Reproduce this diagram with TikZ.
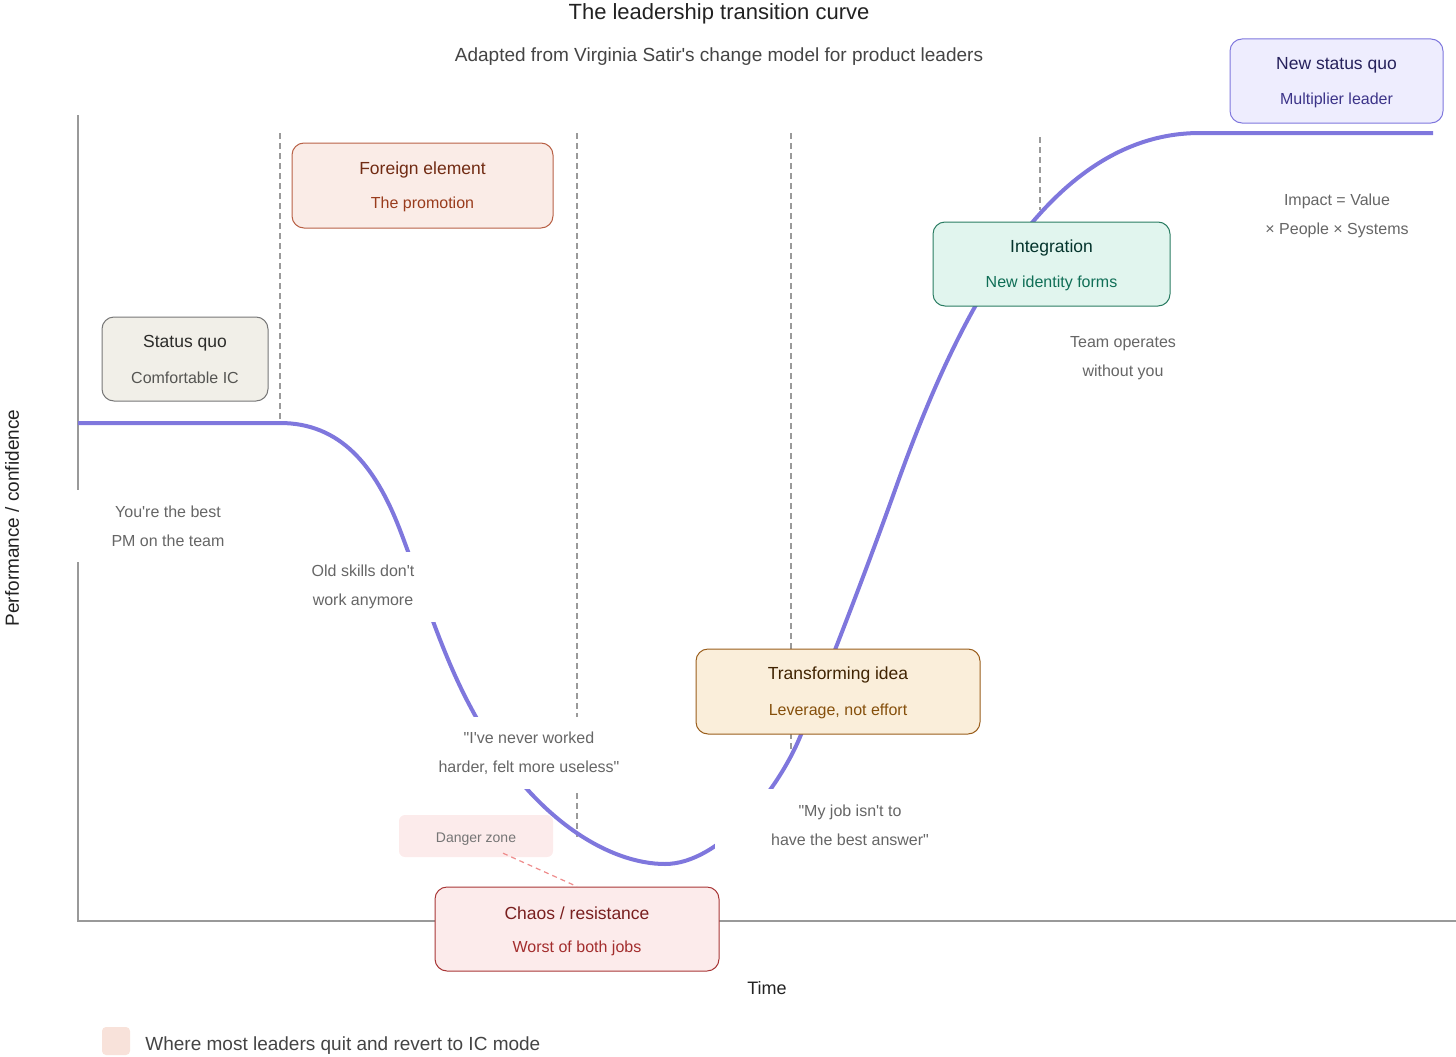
\documentclass[tikz,border=0pt]{standalone}
\usepackage{fontspec}
\setmainfont{Liberation Sans}
\usetikzlibrary{positioning}

\definecolor{curvecol}{HTML}{7F77DD}
\definecolor{axisgray}{HTML}{999999}
\definecolor{guidegray}{HTML}{9A9A9A}
\definecolor{notegray}{HTML}{666666}
\definecolor{titlegray}{HTML}{222222}
\definecolor{subgray}{HTML}{444444}
% stage colours
\definecolor{sqfill}{HTML}{F1EFE8}\definecolor{sqline}{HTML}{777777}
\definecolor{sqtitle}{HTML}{2C2C2A}\definecolor{sqsub}{HTML}{555552}
\definecolor{fefill}{HTML}{FAECE7}\definecolor{feline}{HTML}{B86146}
\definecolor{fetitle}{HTML}{712B13}\definecolor{fesub}{HTML}{993C1D}
\definecolor{chfill}{HTML}{FCEBEB}\definecolor{chline}{HTML}{A83636}
\definecolor{chtitle}{HTML}{791F1F}\definecolor{chsub}{HTML}{A32D2D}
\definecolor{tifill}{HTML}{FAEEDA}\definecolor{tiline}{HTML}{9A5E1C}
\definecolor{tititle}{HTML}{412402}\definecolor{tisub}{HTML}{854F0B}
\definecolor{infill}{HTML}{E1F5EE}\definecolor{inline}{HTML}{2A7C62}
\definecolor{intitle}{HTML}{04342C}\definecolor{insub}{HTML}{0F6E56}
\definecolor{nsfill}{HTML}{EEEDFE}\definecolor{nsline}{HTML}{7F77DD}
\definecolor{nstitle}{HTML}{26215C}\definecolor{nssub}{HTML}{3C3489}
\definecolor{dangerline}{HTML}{EE8C8C}
\definecolor{legendfill}{HTML}{F8E2DA}

\newcommand{\sq}{\textquotesingle}
\newcommand{\dq}{\textquotedbl}

\tikzset{
  stage/.style={draw, line width=1pt, rounded corners=12pt},
  stagetitle/.style={font=\fontsize{17.5}{20}\selectfont},
  stagesub/.style={font=\fontsize{16}{18}\selectfont},
  note/.style={fill=white, align=center, text=notegray, inner sep=0pt,
    font=\fontsize{16}{29}\selectfont},
  guide/.style={draw=guidegray, line width=1.2pt, dash pattern=on 6pt off 4pt},
  axisline/.style={draw=axisgray, line width=1.3pt},
  curveline/.style={draw=curvecol, line width=4pt},
}

\begin{document}
\begin{tikzpicture}[x=1pt,y=-1pt]
\useasboundingbox (0,0) rectangle (1456,1057);

% phase guides
\foreach \gx/\gtop/\gbot in {280/133/423, 577/133/837, 791/133/755, 1040/137/210}
  \draw[guide] (\gx,\gtop) -- (\gx,\gbot);

% axes
\draw[axisline] (78,115) -- (78,921) -- (1456,921);

% the transition curve
\draw[curveline] (78,423) -- (280,423)
  .. controls (340,423) and (375,465) .. (400,530)
  .. controls (420,582) and (440,650) .. (470,706)
  .. controls (530,820) and (610,864) .. (665,864)
  .. controls (720,864) and (778,790) .. (800,737)
  .. controls (830,665) and (870,560) .. (895,490)
  .. controls (950,336) and (1040,133) .. (1200,133)
  -- (1433,133);

% notes along the curve
\node[note, minimum width=182, minimum height=72] (bestpm) at (168,526) {You\sq re the best\\PM on the team};
\node[note, minimum width=150, minimum height=70] (oldskills) at (363,587) {Old skills don\sq t\\work anymore};
\node[note, minimum width=196, minimum height=72] (useless) at (529,753) {\dq I\sq ve never worked\\harder, felt more useless\dq};
\node[note, minimum width=270, minimum height=72] (bestanswer) at (850,825) {\dq My job isn\sq t to\\have the best answer\dq};
\node[note] (withoutyou) at (1123,358.5) {Team operates\\without you};
\node[note] (impact) at (1337,216) {Impact = Value\\× People × Systems};

% danger zone
\node[fill=chfill, rounded corners=6pt, minimum width=154, minimum height=42] (danger) at (476,836) {};
\node[text=notegray!90, font=\fontsize{14}{16}\selectfont] (dangertext) at (476,839) {Danger zone};

% stages
\node[stage, draw=sqline, fill=sqfill, minimum width=166, minimum height=84] (statusquo) at (185,359) {};
\node[stagetitle, text=sqtitle] at (185,343) {Status quo};
\node[stagesub, text=sqsub] at (185,378) {Comfortable IC};

\node[stage, draw=feline, fill=fefill, minimum width=261, minimum height=85] (foreign) at (422.5,185.5) {};
\node[stagetitle, text=fetitle] at (422.5,170) {Foreign element};
\node[stagesub, text=fesub] at (422.5,204) {The promotion};

\node[stage, draw=chline, fill=chfill, minimum width=284, minimum height=84] (chaos) at (577,929) {};
\node[stagetitle, text=chtitle] at (577,913) {Chaos / resistance};
\node[stagesub, text=chsub] at (577,948) {Worst of both jobs};

\node[stage, draw=tiline, fill=tifill, minimum width=284, minimum height=85] (transforming) at (838,691.5) {};
\node[stagetitle, text=tititle] at (838,675) {Transforming idea};
\node[stagesub, text=tisub] at (838,711) {Leverage, not effort};

\node[stage, draw=inline, fill=infill, minimum width=237, minimum height=84] (integration) at (1051.5,264) {};
\node[stagetitle, text=intitle] at (1051.5,248) {Integration};
\node[stagesub, text=insub] at (1051.5,283) {New identity forms};

\node[stage, draw=nsline, fill=nsfill, minimum width=213, minimum height=84] (newstatusquo) at (1336.5,81) {};
\node[stagetitle, text=nstitle] at (1336.5,65) {New status quo};
\node[stagesub, text=nssub] at (1336.5,100) {Multiplier leader};

\draw[dangerline, line width=1.2pt, dash pattern=on 5pt off 4pt]
  ([xshift=27pt,yshift=4pt]danger.south) -- (chaos.north);

% titles and axis labels
\node[text=titlegray, font=\fontsize{22}{26}\selectfont] (title) at (719,14) {The leadership transition curve};
\node[text=subgray, font=\fontsize{19}{22}\selectfont] (subtitle) at (719,57) {Adapted from Virginia Satir\sq s change model for product leaders};
\node[text=titlegray, font=\fontsize{18}{21}\selectfont] (xlabel) at (767,988) {Time};
\node[text=titlegray, font=\fontsize{19}{21}\selectfont, rotate=90] (ylabel) at (12,518) {Performance / confidence};

% legend
\node[fill=legendfill, rounded corners=4pt, minimum size=28, inner sep=0pt] (legendkey) at (116,1041) {};
\node[text=subgray, font=\fontsize{19}{21}\selectfont, right=15pt of legendkey, inner sep=0pt, yshift=-5pt] (legendtext) {Where most leaders quit and revert to IC mode};
\end{tikzpicture}
\end{document}
